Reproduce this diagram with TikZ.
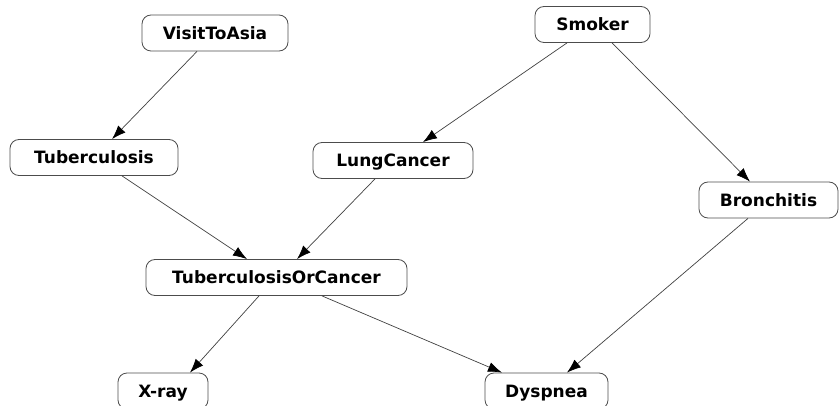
\documentclass[tikz,border=0pt]{standalone}
\usepackage{fontspec}
\setmainfont{DejaVu Sans}
\usetikzlibrary{arrows.meta}

\begin{document}
\begin{tikzpicture}[
    x = 1pt, y = -1pt,
    knude/.style = {rectangle, rounded corners=9pt, draw=black!70, line width=0.8pt,
                    minimum height=36pt, inner sep=0pt,
                    text height=12.4pt, text depth=0pt,
                    font=\fontsize{17}{20}\selectfont\bfseries},
    pil/.style = {draw=black!75, line width=0.7pt,
                  -{Latex[length=14pt,width=10pt,color=black]}}
    ]
    \clip (0,0) rectangle (840,406);
    %nodes
    \node[knude, minimum width=146pt] (asia)   at (215,33)    {VisitToAsia};
    \node[knude, minimum width=115pt] (smoke)  at (592.5,24.5) {Smoker};
    \node[knude, minimum width=168pt] (tub)    at (94,157.5)  {Tuberculosis};
    \node[knude, minimum width=160pt] (lung)   at (393,160.5) {LungCancer};
    \node[knude, minimum width=139pt] (bronc)  at (768.5,200) {Bronchitis};
    \node[knude, minimum width=261pt] (either) at (276.5,277.5) {TuberculosisOrCancer};
    \node[knude, minimum width=90pt]  (xray)   at (163,391)   {X-ray};
    \node[knude, minimum width=123pt] (dysp)   at (546.5,391) {Dyspnea};

    % edges
    \path[every edge/.style=pil]
    ([xshift=-18pt]asia.south) edge ([xshift=18pt]tub.north)
    ([xshift=-25.5pt]smoke.south) edge ([xshift=30pt]lung.north)
    ([xshift=19.5pt]smoke.south) edge ([xshift=-18.5pt]bronc.north)
    ([xshift=28pt]tub.south) edge ([xshift=-29.5pt]either.north)
    ([xshift=-18pt]lung.south) edge ([xshift=20.5pt]either.north)
    ([xshift=-17.5pt]either.south) edge ([xshift=27pt]xray.north)
    ([xshift=45.5pt]either.south) edge ([xshift=-44.5pt]dysp.north)
    ([xshift=-20.5pt]bronc.south) edge ([xshift=20.5pt]dysp.north);
\end{tikzpicture}
\end{document}
